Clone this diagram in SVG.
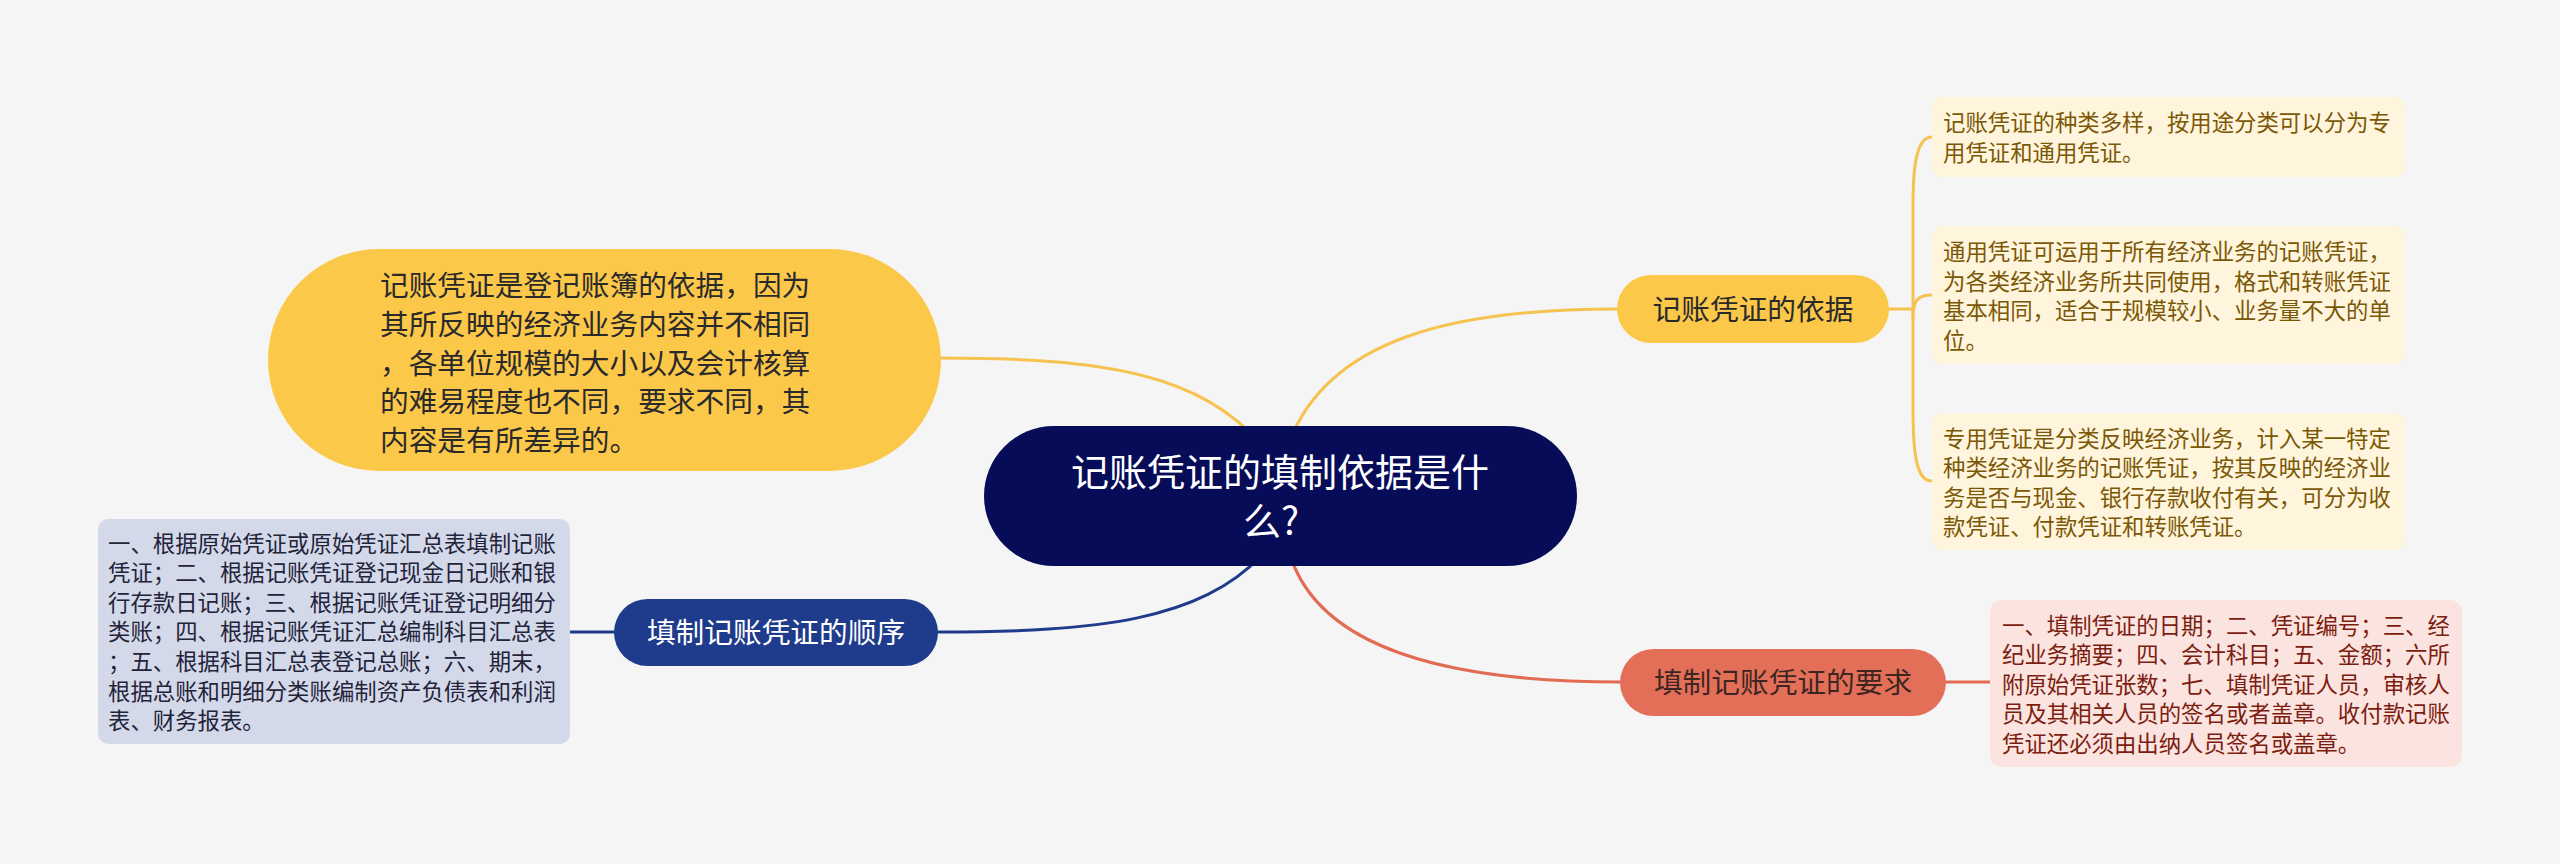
<svg xmlns="http://www.w3.org/2000/svg" width="2560" height="864" viewBox="0 0 2560 864">
<style>
text{font-family:"Noto Sans CJK SC","Noto Sans",sans-serif}
.c{fill:none;stroke-width:3;stroke-linecap:round}
.y{stroke:#f6c351}
.b{stroke:#1f3b8c}
.r{stroke:#e26b53}
.leafY{fill:#fff4dc}
.leafB{fill:#d4d9ea}
.leafR{fill:#fbe3df}
.ty{font-size:22.4px;fill:#7b5806}
.tb{font-size:22.4px;fill:#23233a}
.tr{font-size:22.4px;fill:#7b1d10}
</style>
<rect width="2560" height="864" fill="#f5f5f5"/>
<g id="connectors">
<path class="c y" d="M941,358 C1110,358 1200,375 1262,445"/>
<path class="c y" d="M1290,440 C1330,340 1450,309 1617,309"/>
<path class="c b" d="M938,632 C1100,632 1200,620 1262,555"/>
<path class="c r" d="M1290,555 C1320,650 1450,682 1620,682"/>
<path class="c y" d="M1889,309 H1913"/>
<path class="c y" d="M1913,309 V205 C1913,160 1918,137 1932,137"/>
<path class="c y" d="M1913,309 V318 C1913,300 1918,295 1932,295"/>
<path class="c y" d="M1913,309 V410 C1913,460 1918,481 1932,481"/>
<path class="c b" d="M614,632 H570"/>
<path class="c r" d="M1946,682 H1990"/>
</g>
<g id="root">
<rect x="984" y="426" width="593" height="140" rx="70" fill="#070c58"/>
<text x="1280" y="486" font-size="38" fill="#ffffff" text-anchor="middle">记账凭证的填制依据是什</text>
<text x="1271" y="535" font-size="38" fill="#ffffff" text-anchor="middle">么?</text>
</g>
<g id="note-left">
<rect x="268" y="249" width="673" height="222" rx="111" fill="#fcc84a"/>
<text font-size="28.7" fill="#2a2a2a">
<tspan x="380" y="296">记账凭证是登记账簿的依据，因为</tspan>
<tspan x="380" y="334.8">其所反映的经济业务内容并不相同</tspan>
<tspan x="380" y="373.6">，各单位规模的大小以及会计核算</tspan>
<tspan x="380" y="412.4">的难易程度也不同，要求不同，其</tspan>
<tspan x="380" y="451.2">内容是有所差异的。</tspan>
</text>
</g>
<g id="basis">
<rect x="1617" y="275" width="272" height="68" rx="34" fill="#fcc84a"/>
<text x="1753" y="320" font-size="28.7" fill="#2a2a2a" text-anchor="middle">记账凭证的依据</text>
</g>
<g id="basis-1">
<rect class="leafY" x="1932" y="97" width="473" height="80" rx="10"/>
<text class="ty">
<tspan x="1943" y="131">记账凭证的种类多样，按用途分类可以分为专</tspan>
<tspan x="1943" y="160.6">用凭证和通用凭证。</tspan>
</text>
</g>
<g id="basis-2">
<rect class="leafY" x="1932" y="226" width="473" height="138" rx="10"/>
<text class="ty">
<tspan x="1943" y="260">通用凭证可运用于所有经济业务的记账凭证，</tspan>
<tspan x="1943" y="289.6">为各类经济业务所共同使用，格式和转账凭证</tspan>
<tspan x="1943" y="319.2">基本相同，适合于规模较小、业务量不大的单</tspan>
<tspan x="1943" y="348.8">位。</tspan>
</text>
</g>
<g id="basis-3">
<rect class="leafY" x="1932" y="413" width="473" height="137" rx="10"/>
<text class="ty">
<tspan x="1943" y="446.5">专用凭证是分类反映经济业务，计入某一特定</tspan>
<tspan x="1943" y="476.1">种类经济业务的记账凭证，按其反映的经济业</tspan>
<tspan x="1943" y="505.7">务是否与现金、银行存款收付有关，可分为收</tspan>
<tspan x="1943" y="535.3">款凭证、付款凭证和转账凭证。</tspan>
</text>
</g>
<g id="order">
<rect x="614" y="599" width="324" height="67" rx="33.5" fill="#1f3b8c"/>
<text x="776" y="643" font-size="28.7" fill="#ffffff" text-anchor="middle">填制记账凭证的顺序</text>
</g>
<g id="order-1">
<rect class="leafB" x="98" y="519" width="472" height="225" rx="10"/>
<text class="tb">
<tspan x="108" y="551.5">一、根据原始凭证或原始凭证汇总表填制记账</tspan>
<tspan x="108" y="581.1">凭证；二、根据记账凭证登记现金日记账和银</tspan>
<tspan x="108" y="610.7">行存款日记账；三、根据记账凭证登记明细分</tspan>
<tspan x="108" y="640.3">类账；四、根据记账凭证汇总编制科目汇总表</tspan>
<tspan x="108" y="669.9">；五、根据科目汇总表登记总账；六、期末，</tspan>
<tspan x="108" y="699.5">根据总账和明细分类账编制资产负债表和利润</tspan>
<tspan x="108" y="729.1">表、财务报表。</tspan>
</text>
</g>
<g id="require">
<rect x="1620" y="649" width="326" height="67" rx="33.5" fill="#e46f58"/>
<text x="1783" y="693" font-size="28.7" fill="#3d2622" text-anchor="middle">填制记账凭证的要求</text>
</g>
<g id="require-1">
<rect class="leafR" x="1990" y="600" width="472" height="167" rx="12"/>
<text class="tr">
<tspan x="2002" y="633.5">一、填制凭证的日期；二、凭证编号；三、经</tspan>
<tspan x="2002" y="663.1">纪业务摘要；四、会计科目；五、金额；六所</tspan>
<tspan x="2002" y="692.7">附原始凭证张数；七、填制凭证人员，审核人</tspan>
<tspan x="2002" y="722.3">员及其相关人员的签名或者盖章。收付款记账</tspan>
<tspan x="2002" y="751.9">凭证还必须由出纳人员签名或盖章。</tspan>
</text>
</g>
</svg>
